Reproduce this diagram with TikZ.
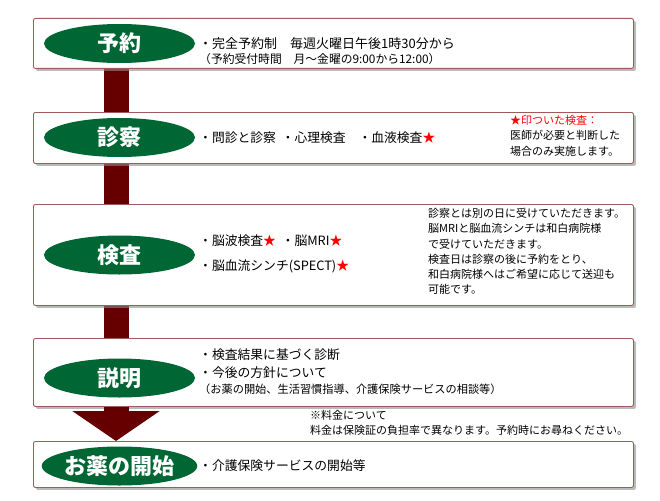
\documentclass[tikz,border=0pt]{standalone}
\usepackage{fontspec}
\setmainfont{Noto Sans CJK JP}
\usepackage{xcolor}
\usepackage{tikz}
\usetikzlibrary{calc,shadows,backgrounds,arrows.meta,shapes.geometric}

\definecolor{stepgreen}{RGB}{0,102,51}
\definecolor{stepframe}{RGB}{160,90,90}
\definecolor{spinered}{RGB}{102,0,0}

\begin{document}
\begin{tikzpicture}[x=1pt,y=-1pt,
    flowbox/.style={draw=stepframe,line width=0.9pt,fill=white,rounded corners=2pt,
      drop shadow={shadow xshift=2.5pt,shadow yshift=-2.5pt,fill=black!45,opacity=0.6},
      minimum width=600pt,anchor=north west,inner sep=0pt},
    steplabel/.style={ellipse,fill=stepgreen,text=white,minimum width=151pt,minimum height=39pt,
      inner sep=0pt,font=\fontsize{22}{22}\selectfont\bfseries},
    itemtext/.style={anchor=west,inner sep=0pt,align=left,font=\fontsize{12.8}{18}\selectfont},
    notetext/.style={anchor=north west,inner sep=0pt,align=left,font=\fontsize{11}{15.3}\selectfont},
    spine/.style={spinered,line width=25pt}]
  \useasboundingbox (0,0) rectangle (660,500);
  \newcommand{\redstar}{\textcolor{red}{★}}

  % Boxes for each step
  \node[flowbox,minimum height=50pt] (rsvbox) at (33,18) {};
  \node[flowbox,minimum height=51pt] (exmbox) at (33,112) {};
  \node[flowbox,minimum height=101pt] (tstbox) at (33,204) {};
  \node[flowbox,minimum height=68pt] (expbox) at (33,338) {};
  \node[flowbox,minimum height=46pt] (medbox) at (33,441) {};

  % Spine between the boxes (behind them)
  \coordinate (spine) at (116,0);
  \begin{scope}[on background layer]
    \draw[spine] (rsvbox.south -| spine) -- (exmbox.north -| spine);
    \draw[spine] (exmbox.south -| spine) -- (tstbox.north -| spine);
    \draw[spine] (tstbox.south -| spine) -- (expbox.north -| spine);
  \end{scope}
  \draw[spine,-{Triangle[width=86pt,length=30pt]}] (expbox.south -| spine) -- (medbox.north -| spine);

  % Green labels
  \node[steplabel] (rsvlbl) at (119.5,43.5) {予約};
  \node[steplabel] (exmlbl) at (119.5,137.5) {診察};
  \node[steplabel] (tstlbl) at (119.5,255) {検査};
  \node[steplabel] (explbl) at (119.5,378) {説明};
  \node[steplabel] (medlbl) at (119.5,466) {お薬の開始};

  % Reservation
  \node[itemtext,font=\fontsize{13}{18}\selectfont] (rsvtxt) at (199,43.5) {・完全予約制　毎週火曜日午後1時30分から};
  \node[itemtext,font=\fontsize{11.8}{14}\selectfont] (rsvsub) at (199,59.5) {（予約受付時間　月～金曜の9:00から12:00）};

  % Consultation
  \node[itemtext] (exmtxt) at (199,138) {・問診と診察\ \ ・心理検査　・血液検査\redstar};
  \node[notetext] (exmnote) at (510,115) {\textcolor{red}{★印ついた検査：}\\医師が必要と判断した\\場合のみ実施します。};

  % Examination
  \node[itemtext] (tsttxt) at (199,241) {・脳波検査\redstar\ \ ・脳MRI\redstar};
  \node[itemtext] (tsttxt2) at (199,266) {・脳血流シンチ(SPECT)\redstar};
  \node[notetext] (tstnote) at (428,208) {診察とは別の日に受けていただきます。\\脳MRIと脳血流シンチは和白病院様\\で受けていただきます。\\検査日は診察の後に予約をとり、\\和白病院様へはご希望に応じて送迎も\\可能です。};

  % Explanation
  \node[itemtext] (exptxt) at (199,355) {・検査結果に基づく診断};
  \node[itemtext] (exptxt2) at (199,373) {・今後の方針について};
  \node[itemtext,font=\fontsize{11.2}{14}\selectfont] (expsub) at (199,389) {（お薬の開始、生活習慣指導、介護保険サービスの相談等）};

  % Fee note
  \node[notetext] (fee) at (310,410) {※料金について\\料金は保険証の負担率で異なります。予約時にお尋ねください。};

  % Medication
  \node[itemtext] (medtxt) at (199,466) {・介護保険サービスの開始等};

\end{tikzpicture}
\end{document}
